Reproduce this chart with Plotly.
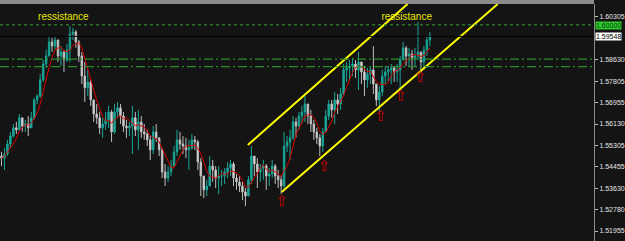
import plotly.graph_objects as go
import pandas as pd

# ---- data (price values) ----
high = [1.5504,1.5520,1.5551,1.5582,1.5613,1.5621,1.5652,1.5637,1.5629,1.5644,
        1.5660,1.5715,1.5730,1.5808,1.5863,1.5902,1.5956,1.5949,1.5956,1.5941,
        1.5917,1.5902,1.5925,1.5995,1.5988,1.5980,1.5941,1.5894,1.5855,1.5824,
        1.5785,1.5707,1.5691,1.5660,1.5637,1.5660,1.5683,1.5668,1.5691,1.5699,
        1.5691,1.5660,1.5629,1.5621,1.5683,1.5660,1.5668,1.5644,1.5613,1.5590,
        1.5566,1.5605,1.5613,1.5559,1.5520,1.5457,1.5449,1.5473,1.5527,1.5590,
        1.5582,1.5566,1.5559,1.5551,1.5574,1.5566,1.5551,1.5480,1.5410,1.5395,
        1.5488,1.5473,1.5449,1.5449,1.5434,1.5441,1.5465,1.5473,1.5465,1.5418,
        1.5410,1.5387,1.5363,1.5410,1.5527,1.5488,1.5480,1.5457,1.5473,1.5457,
        1.5441,1.5473,1.5457,1.5434,1.5410,1.5582,1.5566,1.5590,1.5644,1.5637,
        1.5660,1.5683,1.5722,1.5683,1.5668,1.5629,1.5598,1.5574,1.5598,1.5668,
        1.5707,1.5707,1.5738,1.5730,1.5754,1.5847,1.5855,1.5863,1.5871,1.5863,
        1.5894,1.5855,1.5839,1.5832,1.5839,1.5917,1.5769,1.5761,1.5824,1.5839,
        1.5839,1.5847,1.5839,1.5847,1.5878,1.5933,1.5917,1.5910,1.5902,1.5910,
        1.6011,1.5894,1.5917,1.5956,1.5972]
low = [1.5449,1.5434,1.5488,1.5520,1.5559,1.5574,1.5590,1.5582,1.5582,1.5566,
       1.5598,1.5629,1.5691,1.5715,1.5777,1.5832,1.5878,1.5894,1.5902,1.5855,
       1.5839,1.5816,1.5855,1.5855,1.5941,1.5910,1.5855,1.5769,1.5699,1.5722,
       1.5683,1.5621,1.5613,1.5574,1.5559,1.5590,1.5598,1.5543,1.5574,1.5637,
       1.5613,1.5582,1.5559,1.5566,1.5496,1.5566,1.5512,1.5559,1.5551,1.5527,
       1.5473,1.5496,1.5543,1.5488,1.5402,1.5371,1.5387,1.5410,1.5449,1.5488,
       1.5512,1.5496,1.5480,1.5434,1.5512,1.5512,1.5434,1.5332,1.5324,1.5332,
       1.5371,1.5387,1.5363,1.5340,1.5371,1.5379,1.5402,1.5410,1.5371,1.5356,
       1.5348,1.5316,1.5293,1.5332,1.5379,1.5410,1.5363,1.5387,1.5395,1.5356,
       1.5371,1.5402,1.5379,1.5363,1.5340,1.5356,1.5504,1.5473,1.5551,1.5559,
       1.5590,1.5613,1.5621,1.5613,1.5582,1.5551,1.5535,1.5488,1.5504,1.5582,
       1.5629,1.5637,1.5613,1.5652,1.5668,1.5722,1.5777,1.5785,1.5800,1.5793,
       1.5746,1.5769,1.5722,1.5754,1.5769,1.5730,1.5683,1.5660,1.5722,1.5769,
       1.5777,1.5769,1.5777,1.5777,1.5746,1.5863,1.5839,1.5839,1.5824,1.5839,
       1.5863,1.5816,1.5824,1.5878,1.5917]
close = [1.5480,1.5496,1.5535,1.5566,1.5598,1.5590,1.5637,1.5605,1.5613,1.5598,
         1.5637,1.5707,1.5722,1.5785,1.5847,1.5878,1.5933,1.5917,1.5941,1.5878,
         1.5894,1.5863,1.5902,1.5964,1.5972,1.5933,1.5878,1.5800,1.5754,1.5777,
         1.5707,1.5652,1.5637,1.5598,1.5613,1.5629,1.5660,1.5582,1.5660,1.5676,
         1.5644,1.5605,1.5598,1.5605,1.5637,1.5590,1.5621,1.5582,1.5574,1.5551,
         1.5512,1.5582,1.5559,1.5512,1.5426,1.5402,1.5426,1.5449,1.5504,1.5551,
         1.5535,1.5527,1.5512,1.5520,1.5551,1.5543,1.5465,1.5410,1.5356,1.5371,
         1.5449,1.5434,1.5402,1.5410,1.5410,1.5426,1.5441,1.5457,1.5402,1.5387,
         1.5371,1.5348,1.5332,1.5395,1.5488,1.5457,1.5426,1.5441,1.5449,1.5410,
         1.5418,1.5449,1.5410,1.5395,1.5371,1.5527,1.5543,1.5559,1.5621,1.5605,
         1.5644,1.5660,1.5691,1.5644,1.5613,1.5582,1.5559,1.5527,1.5582,1.5644,
         1.5691,1.5668,1.5707,1.5691,1.5730,1.5824,1.5832,1.5839,1.5847,1.5824,
         1.5855,1.5816,1.5785,1.5808,1.5824,1.5769,1.5707,1.5738,1.5800,1.5816,
         1.5824,1.5832,1.5816,1.5824,1.5863,1.5910,1.5878,1.5886,1.5871,1.5878,
         1.5894,1.5855,1.5902,1.5941,1.5956]
first_open = 1.5488
open_ = [first_open] + close[:-1]
bar_index = list(range(len(close)))

tick_vals = [1.60305, 1.58630, 1.57805, 1.56955, 1.56130, 1.55305,
             1.54455, 1.53630, 1.52780, 1.51955]
resistance_level = 1.60000
current_price = 1.59548
pivot_levels = [1.5866, 1.5837]

upper_channel_x = [82.8, 136.5]
upper_channel_y = [1.5531, 1.6081]
lower_channel_x = [94.2, 166.8]
lower_channel_y = [1.5348, 1.6081]

arrow_x = [94.2, 108.5, 127.5, 134.2, 140.8]
arrow_y = [1.5309, 1.5445, 1.5640, 1.5718, 1.5792]

label_x = [20.8, 136.2]
label_y = [1.6029, 1.6029]
label_text = ["ressistance", "ressistance"]

ma = pd.Series(close).rolling(5, min_periods=1).mean()

BG = "#141414"
fig = go.Figure()

fig.add_trace(go.Scatter(x=bar_index, y=ma, mode="lines",
                         line=dict(color="#d80000", width=1),
                         showlegend=False, hoverinfo="skip"))

fig.add_trace(go.Candlestick(
    x=bar_index, open=open_, high=high, low=low, close=close,
    increasing=dict(line=dict(color="#1aa596", width=1), fillcolor="#1aa596"),
    decreasing=dict(line=dict(color="#bdbdbd", width=1), fillcolor="#e6e6e6"),
    whiskerwidth=0, showlegend=False, hoverinfo="skip"))

for cx, cy in [(upper_channel_x, upper_channel_y), (lower_channel_x, lower_channel_y)]:
    fig.add_trace(go.Scatter(x=cx, y=cy, mode="lines",
                             line=dict(color="#ffff00", width=2),
                             showlegend=False, hoverinfo="skip"))

fig.add_trace(go.Scatter(x=arrow_x, y=arrow_y, mode="text", text=["⇧"] * len(arrow_x),
                         textfont=dict(color="#d00000", size=15, family="DejaVu Sans"),
                         showlegend=False, hoverinfo="skip"))

fig.add_trace(go.Scatter(x=label_x, y=label_y, mode="text", text=label_text,
                         textfont=dict(color="#e8e800", size=10, family="Liberation Sans"),
                         showlegend=False, hoverinfo="skip"))

shapes = [
    dict(type="line", xref="paper", yref="y", x0=0, x1=1,
         y0=resistance_level, y1=resistance_level,
         line=dict(color="#2fa52f", width=1, dash="3px,3px")),
    dict(type="line", xref="paper", yref="y", x0=0, x1=1,
         y0=current_price, y1=current_price,
         line=dict(color="#000000", width=1)),
    dict(type="rect", xref="paper", yref="paper", x0=0, x1=1, y0=1, y1=1.017,
         fillcolor="#8c8c8c", line=dict(width=0), layer="above"),
]
for lv in pivot_levels:
    shapes.append(dict(type="line", xref="paper", yref="y", x0=0, x1=1, y0=lv, y1=lv,
                       line=dict(color="#2a8f2a", width=1.3, dash="9px,3px,2px,3px")))

annotations = [
    dict(xref="paper", yref="y", x=1, y=resistance_level, xanchor="left", xshift=1,
         yshift=-1, text="1.60000", showarrow=False, bgcolor="#2ec82e", borderpad=0,
         font=dict(color="#0a3a0a", size=7, family="Liberation Sans")),
    dict(xref="paper", yref="y", x=1, y=current_price, xanchor="left", xshift=1,
         text="1.59548", showarrow=False, bgcolor="#ffffff", borderpad=0,
         font=dict(color="#000000", size=7, family="Liberation Sans")),
]

fig.update_layout(
    width=625, height=241,
    margin=dict(l=0, r=26, t=4, b=0),
    paper_bgcolor=BG, plot_bgcolor=BG,
    shapes=shapes, annotations=annotations,
    xaxis=dict(range=[-0.5, 199.17], visible=False, rangeslider=dict(visible=False),
               showgrid=False, zeroline=False),
    yaxis=dict(side="right", range=[1.51565, 1.60812], tickvals=tick_vals,
               ticktext=[f"{v:.5f}" for v in tick_vals],
               tickfont=dict(color="#e6e6e6", size=7, family="Liberation Sans"),
               ticks="outside", ticklen=3, tickcolor="#bbbbbb",
               showline=True, linecolor="#8a8a8a", linewidth=1,
               showgrid=False, zeroline=False),
)

fig.write_html("out.html")
